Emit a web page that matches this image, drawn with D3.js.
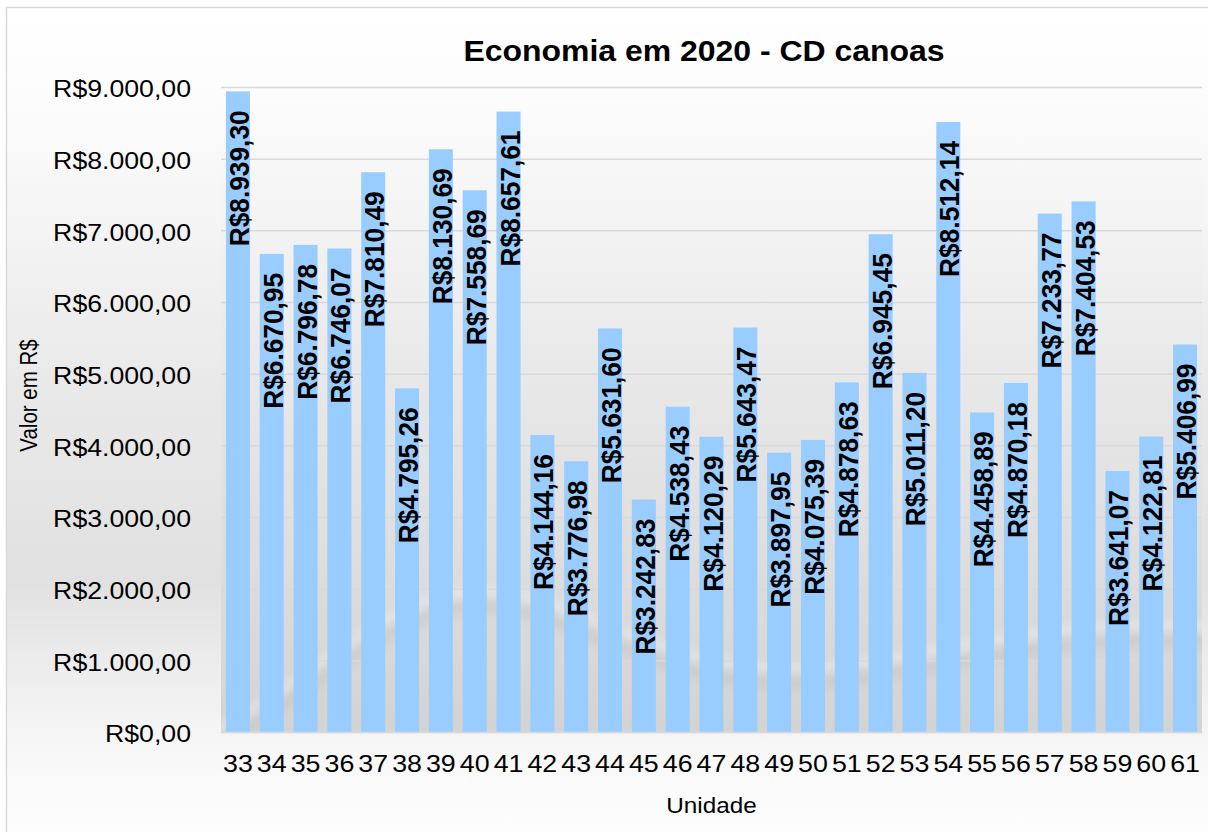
<!DOCTYPE html>
<html>
<head>
<meta charset="utf-8">
<script src="https://cdn.jsdelivr.net/npm/d3@7"></script>
<style>
  html, body { margin: 0; padding: 0; background: #ffffff; }
  svg { display: block; }
  text { font-family: "Liberation Sans", Arial, Helvetica, sans-serif; fill: #000; }
</style>
</head>
<body>
<svg id="chart" width="1208" height="832"></svg>
<script>
// ---- data ----
const units = ["33","34","35","36","37","38","39","40","41","42","43","44","45","46","47","48","49","50","51","52","53","54","55","56","57","58","59","60","61"];
const values = [8939.30, 6670.95, 6796.78, 6746.07, 7810.49, 4795.26, 8130.69, 7558.69, 8657.61, 4144.16,
                3776.98, 5631.60, 3242.83, 4538.43, 4120.29, 5643.47, 3897.95, 4075.39, 4878.63, 6945.45,
                5011.20, 8512.14, 4458.89, 4870.18, 7233.77, 7404.53, 3641.07, 4122.81, 5406.99];
const yTicks = [0, 1000, 2000, 3000, 4000, 5000, 6000, 7000, 8000, 9000];
const titleText = "Economia em 2020 - CD canoas";
const yTitle = "Valor em R$";
const xTitle = "Unidade";

const data = units.map((u, i) => ({ unit: u, value: values[i] }));

const locale = d3.formatLocale({ decimal: ",", thousands: ".", grouping: [3], currency: ["R$", ""] });
const fmt = locale.format("$,.2f");

const W = 1208, H = 832;
const plot = { left: 221, right: 1202, top: 87, bottom: 732 };

const svg = d3.select("#chart");
const defs = svg.append("defs");

// background gradients
const outerG = defs.append("linearGradient").attr("id", "outerG").attr("x1", 0).attr("y1", 0).attr("x2", 0).attr("y2", 1);
[[0, "#ffffff"], [0.12, "#fcfcfc"], [0.45, "#e9e9e9"], [0.68, "#e1e1e1"], [0.88, "#f7f7f7"], [1, "#ffffff"]]
  .forEach(([o, c]) => outerG.append("stop").attr("offset", o).attr("stop-color", c));
const plotG = defs.append("linearGradient").attr("id", "plotG").attr("x1", 0).attr("y1", 0).attr("x2", 0).attr("y2", 1);
[[0, "#fdfdfd"], [0.45, "#e8e8e8"], [0.72, "#dedede"], [1, "#d3d3d3"]]
  .forEach(([o, c]) => plotG.append("stop").attr("offset", o).attr("stop-color", c));
defs.append("filter").attr("id", "blur").attr("x", "-10%").attr("y", "-50%").attr("width", "120%").attr("height", "200%")
  .append("feGaussianBlur").attr("stdDeviation", 5);
defs.append("clipPath").attr("id", "plotClip").append("rect")
  .attr("x", plot.left).attr("y", plot.top).attr("width", plot.right - plot.left).attr("height", plot.bottom - plot.top);

// chart area frame
svg.append("rect").attr("x", 6.5).attr("y", 7.5).attr("width", W + 10).attr("height", H + 10)
  .attr("fill", "url(#outerG)").attr("stroke", "#d9d9d9").attr("stroke-width", 1.5);

// plot area background
const bg = svg.append("g").attr("clip-path", "url(#plotClip)");
bg.append("rect").attr("x", plot.left).attr("y", plot.top).attr("width", plot.right - plot.left).attr("height", plot.bottom - plot.top)
  .attr("fill", "url(#plotG)");
// decorative swoosh (subtle)
const swoosh = "M200,740 C300,690 380,600 470,592 C560,585 640,665 780,668 C920,670 1010,615 1220,628";
bg.append("path").attr("d", swoosh)
  .attr("fill", "none").attr("stroke", "#c2c2c2").attr("stroke-width", 16).attr("opacity", 0.45).attr("filter", "url(#blur)")
  .attr("transform", "translate(0,14)");
bg.append("path").attr("d", swoosh)
  .attr("fill", "none").attr("stroke", "#efefef").attr("stroke-width", 10).attr("opacity", 0.5).attr("filter", "url(#blur)");

// scales
const x = d3.scaleBand().domain(units).range([plot.left, plot.right]).paddingInner(0.29).paddingOuter(0.145);
const y = d3.scaleLinear().domain([0, 9000]).range([plot.bottom, plot.top]);

// gridlines
const grid = svg.append("g").attr("transform", `translate(${plot.left},0)`)
  .call(d3.axisLeft(y).tickValues(yTicks).tickSize(-(plot.right - plot.left)).tickFormat(""));
grid.select(".domain").remove();
grid.selectAll(".tick line").attr("stroke", "#d9d9d9").attr("stroke-width", 1.5);

// bars
svg.append("g").selectAll("rect").data(data).join("rect")
  .attr("x", d => x(d.unit)).attr("width", x.bandwidth())
  .attr("y", d => y(d.value)).attr("height", d => y(0) - y(d.value))
  .attr("fill", "#99ccff");

// data labels
svg.append("g").selectAll("text").data(data).join("text")
  .attr("transform", d => `translate(${x(d.unit) + x.bandwidth() / 2 + 11},${y(d.value) + 19}) scale(1.02,1) rotate(-90)`)
  .attr("text-anchor", "end")
  .style("font-weight", "bold").style("font-size", "26.3px")
  .text(d => fmt(d.value));

// y axis labels
const yAxis = svg.append("g").attr("transform", `translate(${plot.left},0)`)
  .call(d3.axisLeft(y).tickValues(yTicks).tickSize(0).tickFormat(fmt));
yAxis.select(".domain").remove();
yAxis.selectAll(".tick text")
  .attr("x", 0).attr("dy", 0).attr("y", 0)
  .attr("transform", "translate(-30,9.7) scale(1.16,1)")
  .attr("text-anchor", "end")
  .style("font-size", "23px").style("font-family", "'Liberation Sans', Arial, sans-serif").attr("fill", "#000");

// x axis labels
const xAxis = svg.append("g").attr("transform", `translate(0,${plot.bottom})`)
  .call(d3.axisBottom(x).tickSize(0));
xAxis.select(".domain").attr("stroke", "#d9d9d9").attr("stroke-width", 1.5);
xAxis.selectAll(".tick text")
  .attr("y", 0).attr("dy", 0)
  .attr("transform", "translate(0,40) scale(1.14,1)")
  .style("font-size", "23.5px").style("font-family", "'Liberation Sans', Arial, sans-serif").attr("fill", "#000");

// title
svg.append("text").attr("transform", "translate(704,61) scale(1.065,1)")
  .attr("text-anchor", "middle").style("font-weight", "bold").style("font-size", "30px")
  .text(titleText);

// axis titles
svg.append("text").attr("transform", "translate(36.5,395.5) scale(1.17,1) rotate(-90)")
  .attr("text-anchor", "middle").style("font-size", "20.5px").text(yTitle);
svg.append("text").attr("transform", "translate(711.5,813) scale(1.08,1)")
  .attr("text-anchor", "middle").style("font-size", "22.5px").text(xTitle);
</script>
</body>
</html>
